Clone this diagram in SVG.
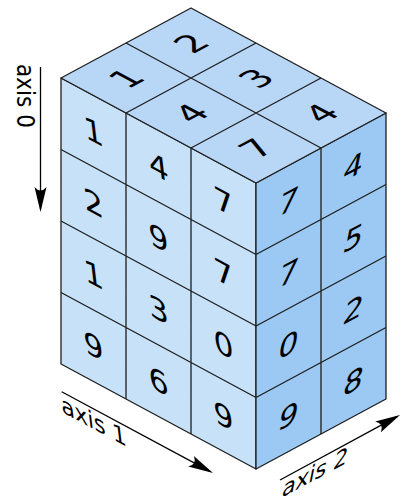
<svg xmlns="http://www.w3.org/2000/svg" width="401" height="504" viewBox="0 0 401 504">
<style>
.face{stroke:#1e1e1e;stroke-width:1.3;stroke-linejoin:round}
.front{fill:#c7e2f8}
.top{fill:#b8d6f6}
.right{fill:#9bc9f3}
.grid{stroke:#1e1e1e;stroke-width:1.3;fill:none}
.num{font-family:"DejaVu Sans",sans-serif;font-size:31px;fill:#000;text-anchor:middle}
.lbl{font-family:"DejaVu Sans",sans-serif;font-size:24px;fill:#000}
.ax{stroke:#000;stroke-width:1.3;fill:none;marker-end:url(#arr)}
</style>
<defs>
<marker id="arr" markerUnits="userSpaceOnUse" markerWidth="40" markerHeight="20" viewBox="-30 -10 40 20" refX="0" refY="0" orient="auto" overflow="visible">
<path d="M3,0 L-22,-6 Q-15,0 -22,6 Z" fill="#000"/>
</marker>
</defs>
<g id="faces">
<polygon class="face front" points="61,78 256,183 256,469 61,364"/>
<polygon class="face right" points="256,183 386,113 386,399 256,469"/>
<polygon class="face top" points="61,78 191,8 386,113 256,183"/>
</g>
<g id="grid">
<path class="grid" d="M126,113V399M191,148V434M61,149.5L256,254.5M61,221L256,326M61,292.5L256,397.5"/>
<path class="grid" d="M321,148V434M256,254.5L386,184.5M256,326L386,256M256,397.5L386,327.5"/>
<path class="grid" d="M126,43L321,148M126,113L256,43M191,148L321,78"/>
</g>
<g id="front-numbers">
<g transform="translate(93.5,131.25) matrix(1,0.538,0.12,1,0,0)"><text class="num" y="11.3">1</text></g>
<g transform="translate(93.5,202.75) matrix(1,0.538,0.12,1,0,0)"><text class="num" y="11.3">2</text></g>
<g transform="translate(93.5,274.25) matrix(1,0.538,0.12,1,0,0)"><text class="num" y="11.3">1</text></g>
<g transform="translate(93.5,345.75) matrix(1,0.538,0.12,1,0,0)"><text class="num" y="11.3">9</text></g>
<g transform="translate(158.5,166.25) matrix(1,0.538,0.12,1,0,0)"><text class="num" y="11.3">4</text></g>
<g transform="translate(158.5,237.75) matrix(1,0.538,0.12,1,0,0)"><text class="num" y="11.3">9</text></g>
<g transform="translate(158.5,309.25) matrix(1,0.538,0.12,1,0,0)"><text class="num" y="11.3">3</text></g>
<g transform="translate(158.5,380.75) matrix(1,0.538,0.12,1,0,0)"><text class="num" y="11.3">6</text></g>
<g transform="translate(223.5,201.25) matrix(1,0.538,0.12,1,0,0)"><text class="num" y="11.3">7</text></g>
<g transform="translate(223.5,272.75) matrix(1,0.538,0.12,1,0,0)"><text class="num" y="11.3">7</text></g>
<g transform="translate(223.5,344.25) matrix(1,0.538,0.12,1,0,0)"><text class="num" y="11.3">0</text></g>
<g transform="translate(223.5,415.75) matrix(1,0.538,0.12,1,0,0)"><text class="num" y="11.3">9</text></g>
</g>
<g id="right-numbers">
<g transform="translate(288.5,201.25) matrix(1,-0.538,-0.2,1,0,0)"><text class="num" y="11.3">7</text></g>
<g transform="translate(288.5,272.75) matrix(1,-0.538,-0.2,1,0,0)"><text class="num" y="11.3">7</text></g>
<g transform="translate(288.5,344.25) matrix(1,-0.538,-0.2,1,0,0)"><text class="num" y="11.3">0</text></g>
<g transform="translate(288.5,415.75) matrix(1,-0.538,-0.2,1,0,0)"><text class="num" y="11.3">9</text></g>
<g transform="translate(353.5,166.25) matrix(1,-0.538,-0.2,1,0,0)"><text class="num" y="11.3">4</text></g>
<g transform="translate(353.5,237.75) matrix(1,-0.538,-0.2,1,0,0)"><text class="num" y="11.3">5</text></g>
<g transform="translate(353.5,309.25) matrix(1,-0.538,-0.2,1,0,0)"><text class="num" y="11.3">2</text></g>
<g transform="translate(353.5,380.75) matrix(1,-0.538,-0.2,1,0,0)"><text class="num" y="11.3">8</text></g>
</g>
<g id="top-numbers">
<g transform="translate(126,78) matrix(1,-0.538,1,0.538,0,0)"><text class="num" y="11.3">1</text></g>
<g transform="translate(191,113) matrix(1,-0.538,1,0.538,0,0)"><text class="num" y="11.3">4</text></g>
<g transform="translate(256,148) matrix(1,-0.538,1,0.538,0,0)"><text class="num" y="11.3">7</text></g>
<g transform="translate(191,43) matrix(1,-0.538,1,0.538,0,0)"><text class="num" y="11.3">2</text></g>
<g transform="translate(256,78) matrix(1,-0.538,1,0.538,0,0)"><text class="num" y="11.3">3</text></g>
<g transform="translate(321,113) matrix(1,-0.538,1,0.538,0,0)"><text class="num" y="11.3">4</text></g>
</g>
<g id="connectors">
<path class="ax" d="M40.5,67V209"/>
<path class="ax" d="M61.7,391.7L210.4,471.6"/>
<path class="ax" d="M280,480L397.4,416.4"/>
</g>
<g id="labels">
<g transform="translate(17,64) rotate(90) scale(0.9,1)"><text class="lbl">axis 0</text></g>
<g transform="translate(62,412) matrix(1,0.538,0.12,1,0,0) scale(0.92,1)"><text class="lbl">axis 1</text></g>
<g transform="translate(281,498) matrix(1,-0.538,-0.2,1,0,0) scale(0.92,1)"><text class="lbl">axis 2</text></g>
</g>
</svg>
